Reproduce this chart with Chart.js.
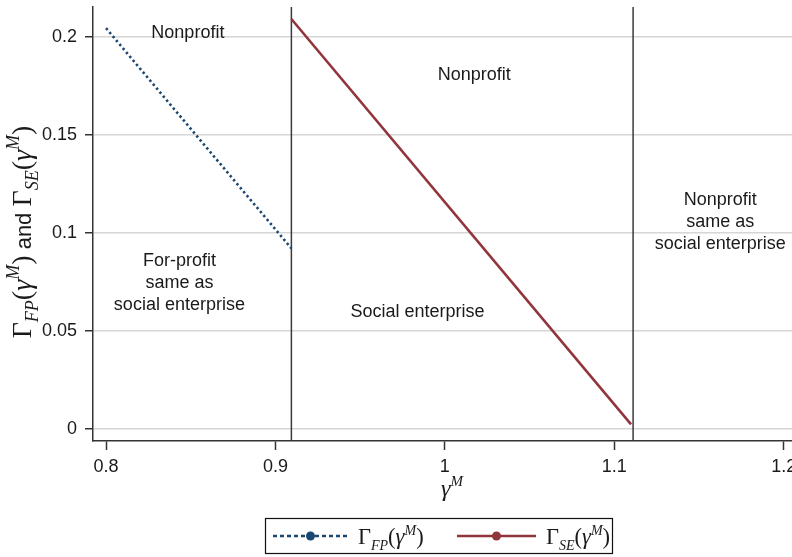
<!DOCTYPE html>
<html>
<head>
<meta charset="utf-8">
<script src="https://cdn.jsdelivr.net/npm/chart.js@4.4.0/dist/chart.umd.min.js"></script>
<style>
  html, body { margin: 0; padding: 0; background: #fff; overflow: hidden; }
  #chart { display: block; }
</style>
</head>
<body>
<canvas id="chart" width="792" height="557"></canvas>
<script>
// Gamma_FP and Gamma_SE against gamma^M (end points of each segment)
const fpX = [0.8, 0.9094];
const fpY = [0.2043, 0.0921];
const seX = [0.9094, 1.1099];
const seY = [0.2090, 0.0024];

// regime boundaries
const thresholds = [0.9094, 1.1111];

const xTicks = [0.8, 0.9, 1, 1.1, 1.2];
const yTicks = [0, 0.05, 0.1, 0.15, 0.2];

const regionTexts = [
  ["Nonprofit"],
  ["Nonprofit"],
  ["For-profit", "same as", "social enterprise"],
  ["Social enterprise"],
  ["Nonprofit", "same as", "social enterprise"]
];

const SANS = '"Liberation Sans", Arial, Helvetica, sans-serif';
const SERIF = '"Liberation Serif", "DejaVu Serif", "Times New Roman", serif';
const fpColor = "#1a476f";
const seColor = "#90353b";
const ink = "#1a1a1a";

// math text helpers: Γ_sub(γ^M)
function gammaParts(sub, s) {
  return [
    { t: "Γ", f: `${s}px ${SERIF}` },
    { t: sub, f: `italic ${Math.round(s * 0.64)}px ${SERIF}`, dy: s * 0.26 },
    { t: "(", f: `${s}px ${SERIF}` },
    { t: "γ", f: `italic ${s}px ${SERIF}` },
    { t: "M", f: `italic ${Math.round(s * 0.64)}px ${SERIF}`, dy: -s * 0.42 },
    { t: ")", f: `${s}px ${SERIF}` }
  ];
}

function mathWidth(ctx, parts) {
  let w = 0;
  for (const p of parts) { ctx.font = p.f; w += ctx.measureText(p.t).width; }
  return w;
}

function drawMath(ctx, parts, x, y) {
  ctx.textAlign = "left";
  ctx.textBaseline = "alphabetic";
  for (const p of parts) {
    ctx.font = p.f;
    ctx.fillText(p.t, x, y + (p.dy || 0));
    x += ctx.measureText(p.t).width;
  }
}

const decor = {
  id: "decor",
  beforeDatasetsDraw(chart) {
    const { ctx, chartArea, scales } = chart;
    ctx.save();
    ctx.strokeStyle = "#3a3a3a";
    ctx.lineWidth = 1.5;
    for (const t of thresholds) {
      const px = scales.x.getPixelForValue(t);
      ctx.beginPath();
      ctx.moveTo(px, chartArea.top);
      ctx.lineTo(px, chartArea.bottom);
      ctx.stroke();
    }
    ctx.restore();
  },
  afterDraw(chart) {
    const { ctx, scales } = chart;
    const X = scales.x, Y = scales.y;
    ctx.save();
    ctx.fillStyle = ink;

    // region labels
    const anchors = [[0.8483, 0.2019], [1.0174, 0.1805], [0.8433, 0.0746], [0.9838, 0.0596], [1.1626, 0.1057]];
    ctx.font = `18px ${SANS}`;
    ctx.textAlign = "center";
    ctx.textBaseline = "middle";
    regionTexts.forEach((lines, i) => {
      const cx = X.getPixelForValue(anchors[i][0]);
      const cy = Y.getPixelForValue(anchors[i][1]);
      const off = (lines.length - 1) / 2;
      lines.forEach((l, j) => ctx.fillText(l, cx, cy + (j - off) * 22));
    });

    // y axis title
    const yParts = gammaParts("FP", 28)
      .concat([{ t: " and ", f: `22px ${SANS}` }])
      .concat(gammaParts("SE", 28));
    const yw = mathWidth(ctx, yParts);
    ctx.save();
    ctx.translate(31, 232);
    ctx.rotate(-Math.PI / 2);
    drawMath(ctx, yParts, -yw / 2, 0);
    ctx.restore();

    // x axis title
    const xParts = [
      { t: "γ", f: `italic 24px ${SERIF}` },
      { t: "M", f: `italic 15px ${SERIF}`, dy: -10 }
    ];
    const xw = mathWidth(ctx, xParts);
    drawMath(ctx, xParts, 452 - xw / 2, 496);

    // legend
    const box = { x: 265.5, y: 518.5, w: 347, h: 35 };
    ctx.fillStyle = "#fff";
    ctx.fillRect(box.x, box.y, box.w, box.h);
    ctx.strokeStyle = "#111";
    ctx.lineWidth = 1.2;
    ctx.strokeRect(box.x, box.y, box.w, box.h);
    const items = [
      { x0: 273, x1: 348, tx: 358, sub: "FP" },
      { x0: 457, x1: 536, tx: 546, sub: "SE" }
    ];
    const ly = 536;
    chart.data.datasets.forEach((ds, i) => {
      const it = items[i];
      ctx.strokeStyle = ds.borderColor;
      ctx.lineWidth = 2.5;
      ctx.setLineDash(ds.legendDash || []);
      ctx.beginPath();
      ctx.moveTo(it.x0, ly);
      ctx.lineTo(it.x1, ly);
      ctx.stroke();
      ctx.setLineDash([]);
      ctx.fillStyle = ds.borderColor;
      ctx.beginPath();
      ctx.arc((it.x0 + it.x1) / 2, ly, 4.5, 0, 2 * Math.PI);
      ctx.fill();
      ctx.fillStyle = ink;
      drawMath(ctx, gammaParts(it.sub, 22.5), it.tx, 544);
    });
    ctx.restore();
  }
};

const tickFont = { family: SANS, size: 18 };

new Chart(document.getElementById("chart"), {
  type: "scatter",
  data: {
    datasets: [
      {
        label: "Γ_FP(γ^M)",
        data: fpX.map((x, i) => ({ x: x, y: fpY[i] })),
        showLine: true,
        borderColor: fpColor,
        borderWidth: 2.6,
        borderDash: [2.4, 2.8],
        legendDash: [4, 3],
        pointRadius: 0
      },
      {
        label: "Γ_SE(γ^M)",
        data: seX.map((x, i) => ({ x: x, y: seY[i] })),
        showLine: true,
        borderColor: seColor,
        borderWidth: 2.6,
        pointRadius: 0
      }
    ]
  },
  options: {
    responsive: false,
    animation: false,
    devicePixelRatio: 1,
    layout: { padding: { top: 7, right: 0, bottom: 0, left: 0 } },
    plugins: { legend: { display: false }, tooltip: { enabled: false } },
    scales: {
      x: {
        type: "linear",
        min: 0.7923,
        max: 1.2049,
        afterFit: s => { s.height = 116; s.paddingLeft = 0; s.paddingRight = 0; },
        afterBuildTicks: s => { s.ticks = xTicks.map(v => ({ value: v })); },
        ticks: { font: tickFont, color: ink, padding: 6, maxRotation: 0, autoSkip: false, callback: v => String(v) },
        grid: { drawOnChartArea: false, drawTicks: true, tickLength: 9, tickColor: "#333", tickWidth: 1.5 },
        border: { display: true, color: "#333", width: 1.5 }
      },
      y: {
        type: "linear",
        min: -0.0061,
        max: 0.2151,
        afterFit: s => { s.width = 93; s.paddingTop = 0; s.paddingBottom = 0; },
        afterBuildTicks: s => { s.ticks = yTicks.map(v => ({ value: v })); },
        ticks: { font: tickFont, color: ink, padding: 8, autoSkip: false, callback: v => String(v) },
        grid: { color: "#d6d6d6", lineWidth: 1.5, drawTicks: true, tickLength: 8, tickColor: "#333", tickWidth: 1.5 },
        border: { display: true, color: "#333", width: 1.5 }
      }
    }
  },
  plugins: [decor]
});
</script>
</body>
</html>
